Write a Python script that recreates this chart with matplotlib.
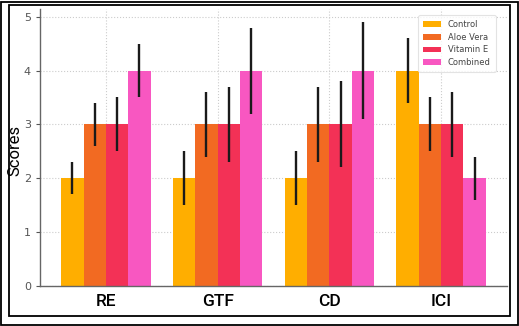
import matplotlib
matplotlib.use("Agg")
import matplotlib.pyplot as plt
import numpy as np
from matplotlib.patches import Rectangle

categories = ["RE", "GTF", "CD", "ICI"]
series = ["Control", "Aloe Vera", "Vitamin E", "Combined"]
values = {
    "Control":   [2, 2, 2, 4],
    "Aloe Vera": [3, 3, 3, 3],
    "Vitamin E": [3, 3, 3, 3],
    "Combined":  [4, 4, 4, 2],
}
errors = {
    "Control":   [0.3, 0.5, 0.5, 0.6],
    "Aloe Vera": [0.4, 0.6, 0.7, 0.5],
    "Vitamin E": [0.5, 0.7, 0.8, 0.6],
    "Combined":  [0.5, 0.8, 0.9, 0.4],
}
colors = ["#FFAE00", "#F26A22", "#F33156", "#F857C1"]

W, H = 519, 326
fig = plt.figure(figsize=(W / 100, H / 100), dpi=100)
ax = fig.add_axes([40 / W, 1 - 285.7 / H, (507 - 40) / W, (285.7 - 9.3) / H])

x = np.arange(len(categories))
bw = 0.2
for i, s in enumerate(series):
    ax.bar(x + (i - 1.5) * bw, values[s], bw, yerr=errors[s], color=colors[i],
           label=s, zorder=2, error_kw=dict(ecolor="#1a1a1a", elinewidth=1.7, capsize=0, zorder=3))

ax.set_ylim(0, 5.14)
ax.set_xticks(x)
ax.set_xticklabels(categories, fontsize=12.5, fontweight="medium",
                   family=["Roboto", "DejaVu Sans"])
ax.set_ylabel("Scores", fontsize=12, color="black", family=["Roboto", "DejaVu Sans"])
ax.yaxis.set_label_coords(-0.037, 0.49)
ax.tick_params(axis="y", labelsize=8, colors="#555555", length=3)
ax.tick_params(axis="x", colors="#555555", length=3, direction="in", pad=6)
for lbl in ax.get_xticklabels():
    lbl.set_color("black")
ax.grid(True, linestyle=":", color="#cccccc", linewidth=0.8, zorder=0)
ax.set_axisbelow(True)
for sp in ["top", "right"]:
    ax.spines[sp].set_visible(False)
for sp in ["left", "bottom"]:
    ax.spines[sp].set_color("#666666")
    ax.spines[sp].set_linewidth(1.0)

leg = ax.legend(loc="upper right", fontsize=6, frameon=True, borderpad=0.6,
                handlelength=2.2, labelspacing=0.45, bbox_to_anchor=(0.985, 0.995))
leg.get_frame().set_edgecolor("#dddddd")
leg.get_frame().set_linewidth(0.8)
for t in leg.get_texts():
    t.set_color("#444444")

# borders
fig.add_artist(Rectangle((0.5 / W, 1.5 / H), (W - 2) / W, (H - 3) / H, transform=fig.transFigure,
                         fill=False, edgecolor="black", linewidth=1.3))
fig.add_artist(Rectangle((8.5 / W, 1 - 316 / H), (510 - 8.5) / W, (316 - 4.5) / H, transform=fig.transFigure,
                         fill=False, edgecolor="black", linewidth=1.3))

fig.savefig("out.png", dpi=100)
